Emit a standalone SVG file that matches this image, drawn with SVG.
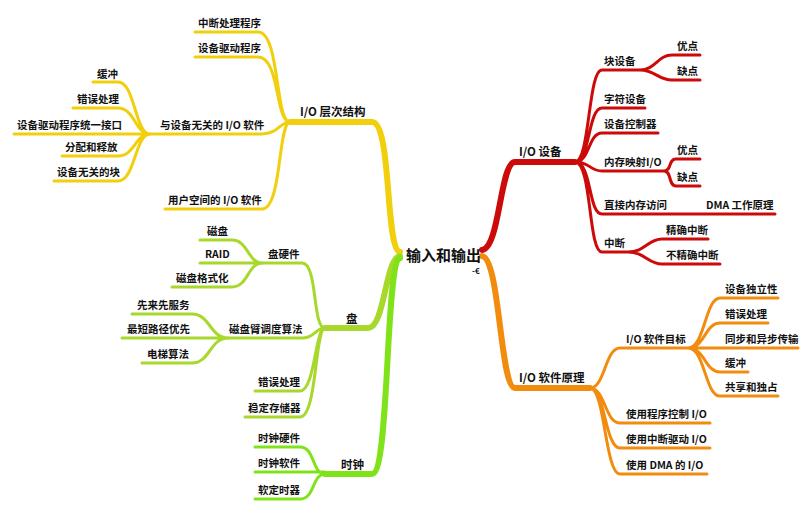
<svg xmlns="http://www.w3.org/2000/svg" width="806" height="515" viewBox="0 0 806 515">
<style>
text{font-family:"Noto Sans CJK SC","Liberation Sans",sans-serif;font-weight:bold;font-size:10.5px;fill:#111}
.r{font-size:15px}
path{fill:none;stroke-linecap:round}
.y{stroke:#f2cf0c;stroke-width:3}
.g{stroke:#a8d82c;stroke-width:3}
.l{stroke:#80e31a;stroke-width:3}
.d{stroke:#cc0a0a;stroke-width:3}
.o{stroke:#f28c0f;stroke-width:3}
.t{stroke-width:6}
</style>
<rect width="806" height="515" fill="#fff"/>
<g id="connectors">
<path class="y t" d="M290 122H372C392 122 385 250 400 252"/>
<path class="y" d="M195 32H258C280 32 275 122 290 122M195 57H258C280 57 275 122 290 122M150 134H262C278 134 280 122 290 122M165 209H262C282 209 278 122 290 122"/>
<path class="y" d="M93 82H118C135 82 135 134 150 134M73 108H118C135 108 135 134 150 134M14 134H150M62 156H118C135 156 135 134 150 134M54 181H118C135 181 135 134 150 134"/>
<path class="g t" d="M325 328H368C385 328 385 258 400 256"/>
<path class="g" d="M262 263H302C318 263 312 328 325 328M228 338H302C315 338 315 328 325 328M255 391H300C315 391 315 328 325 328M245 417H300C317 417 315 328 325 328"/>
<path class="g" d="M200 240H232C248 240 248 263 262 263M200 263H262M172 287H232C248 287 248 263 262 263M132 314H192C210 314 210 338 228 338M122 338H228M142 363H192C210 363 210 338 228 338"/>
<path class="l t" d="M325 474H372C390 474 385 262 400 258"/>
<path class="l" d="M255 447H300C315 447 312 474 325 474M255 472H325M255 499H300C315 499 312 474 325 474"/>
<path class="d t" d="M482 250C500 248 500 162 515 162H575"/>
<path class="d" d="M575 162C590 162 588 70 602 70H640M640 70C655 70 658 55 672 55H700M640 70C655 70 658 80 672 80H700M575 162C590 162 588 108 602 108H645M575 162C590 162 588 133 602 133H658M575 162C590 162 590 171 602 171H664M664 171C672 171 668 159 676 159H700M664 171C672 171 668 186 676 186H700M575 162C592 162 588 214 602 214H700H775M575 162C592 162 588 252 602 252H628M628 252C645 252 648 239 662 239H708M628 252C645 252 648 264 662 264H720"/>
<path class="o t" d="M482 256C500 258 500 388 515 388H590"/>
<path class="o" d="M590 388C605 388 605 348 620 348H688M688 348C705 348 705 298 720 298H778M688 348C705 348 705 323 720 323H768M688 348H798M688 348C705 348 705 372 720 372H748M688 348C705 348 705 396 720 396H778M590 388C605 388 605 423 620 423H710M590 388C605 388 605 448 620 448H710M590 388C605 388 605 474 620 474H707"/>
</g>
<g id="root"><text class="r" x="406" y="261">输入和输出</text><text x="472" y="274" style="font-size:8px">-€</text></g>
<g id="n-io-layer"><text x="300" y="116" style="font-size:11.5px">I/O 层次结构</text></g>
<g id="n1"><text x="198" y="27">中断处理程序</text></g>
<g id="n2"><text x="198" y="52">设备驱动程序</text></g>
<g id="n3"><text x="160" y="129">与设备无关的 I/O 软件</text></g>
<g id="n4"><text x="168" y="204">用户空间的 I/O 软件</text></g>
<g id="n5"><text x="97" y="78">缓冲</text></g>
<g id="n6"><text x="77" y="103">错误处理</text></g>
<g id="n7"><text x="17" y="129">设备驱动程序统一接口</text></g>
<g id="n8"><text x="65" y="151">分配和释放</text></g>
<g id="n9"><text x="57" y="176">设备无关的块</text></g>
<g id="n-disk"><text x="346" y="323" style="font-size:11.5px">盘</text></g>
<g id="n10"><text x="268" y="258">盘硬件</text></g>
<g id="n11"><text x="207" y="235">磁盘</text></g>
<g id="n12"><text x="205" y="258">RAID</text></g>
<g id="n13"><text x="176" y="282">磁盘格式化</text></g>
<g id="n14"><text x="229" y="333">磁盘臂调度算法</text></g>
<g id="n15"><text x="137" y="309">先来先服务</text></g>
<g id="n16"><text x="127" y="333">最短路径优先</text></g>
<g id="n17"><text x="147" y="358">电梯算法</text></g>
<g id="n18"><text x="258" y="386">错误处理</text></g>
<g id="n19"><text x="248" y="412">稳定存储器</text></g>
<g id="n-clock"><text x="341" y="469" style="font-size:11.5px">时钟</text></g>
<g id="n20"><text x="258" y="442">时钟硬件</text></g>
<g id="n21"><text x="258" y="467">时钟软件</text></g>
<g id="n22"><text x="258" y="494">软定时器</text></g>
<g id="n-iodev"><text x="519" y="156" style="font-size:11.5px">I/O 设备</text></g>
<g id="n23"><text x="604" y="65">块设备</text></g>
<g id="n24"><text x="677" y="50">优点</text></g>
<g id="n25"><text x="677" y="75">缺点</text></g>
<g id="n26"><text x="604" y="103">字符设备</text></g>
<g id="n27"><text x="604" y="128">设备控制器</text></g>
<g id="n28"><text x="604" y="166">内存映射I/O</text></g>
<g id="n29"><text x="677" y="154">优点</text></g>
<g id="n30"><text x="677" y="181">缺点</text></g>
<g id="n31"><text x="604" y="209">直接内存访问</text></g>
<g id="n32"><text x="706" y="209">DMA 工作原理</text></g>
<g id="n33"><text x="604" y="247">中断</text></g>
<g id="n34"><text x="666" y="234">精确中断</text></g>
<g id="n35"><text x="666" y="259">不精确中断</text></g>
<g id="n-iosw"><text x="519" y="382" style="font-size:11.5px">I/O 软件原理</text></g>
<g id="n36"><text x="626" y="343">I/O 软件目标</text></g>
<g id="n37"><text x="725" y="293">设备独立性</text></g>
<g id="n38"><text x="725" y="318">错误处理</text></g>
<g id="n39"><text x="725" y="343">同步和异步传输</text></g>
<g id="n40"><text x="725" y="367">缓冲</text></g>
<g id="n41"><text x="725" y="391">共享和独占</text></g>
<g id="n42"><text x="626" y="418">使用程序控制 I/O</text></g>
<g id="n43"><text x="626" y="443">使用中断驱动 I/O</text></g>
<g id="n44"><text x="626" y="469">使用 DMA 的 I/O</text></g>
</svg>
